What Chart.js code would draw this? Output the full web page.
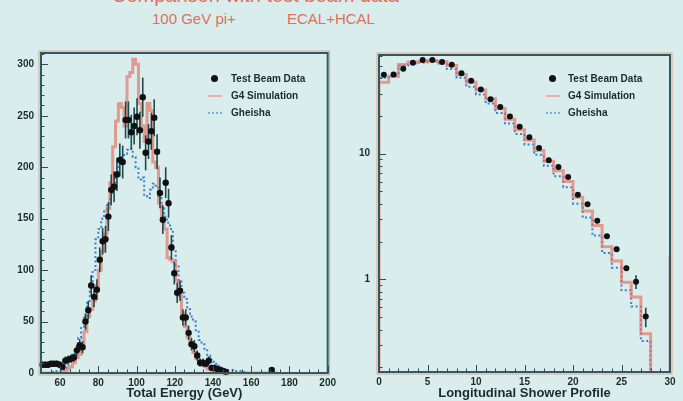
<!DOCTYPE html>
<html><head><meta charset="utf-8">
<script src="https://cdn.jsdelivr.net/npm/chart.js@4.4.1/dist/chart.umd.min.js"></script>
<style>
html,body{margin:0;padding:0;background:#d9eeec;width:683px;height:401px;overflow:hidden;font-family:'Liberation Sans',Arial,sans-serif;}
canvas{position:absolute;}
#c1{left:0;top:40px;}
#c2{left:340px;top:40px;}
.t{position:absolute;color:#e0705a;white-space:nowrap;line-height:15px;}
.lg{position:absolute;font-weight:bold;font-size:10px;color:#1e2a2c;line-height:12px;white-space:nowrap;}
.dot{position:absolute;width:7px;height:7px;border-radius:50%;background:#111;}
.ln{position:absolute;width:14px;height:0;border-top:2px solid rgba(232,160,160,0.8);}
.dl{position:absolute;width:14px;height:0;border-top:2px dotted rgba(110,160,220,0.85);}
</style></head>
<body>
<div class="t" style="left:112px;top:-15px;font-size:20px;line-height:20px;">Comparison with test beam data</div>
<div class="t" style="left:152px;top:11px;font-size:15px;">100 GeV pi+</div>
<div class="t" style="left:287px;top:11px;font-size:15px;">ECAL+HCAL</div>

<canvas id="c1" width="340" height="361"></canvas>
<canvas id="c2" width="343" height="361"></canvas>

<div class="dot" style="left:211px;top:75px;"></div>
<div class="ln" style="left:208px;top:95px;"></div>
<div class="dl" style="left:208px;top:112px;"></div>
<div class="lg" style="left:231px;top:73px;">Test Beam Data</div>
<div class="lg" style="left:231px;top:90px;">G4 Simulation</div>
<div class="lg" style="left:231px;top:107px;">Gheisha</div>

<div class="dot" style="left:549px;top:75px;"></div>
<div class="ln" style="left:546px;top:95px;"></div>
<div class="dl" style="left:546px;top:112px;"></div>
<div class="lg" style="left:568px;top:73px;">Test Beam Data</div>
<div class="lg" style="left:568px;top:90px;">G4 Simulation</div>
<div class="lg" style="left:568px;top:107px;">Gheisha</div>

<script>
// ---- Left panel: total energy (GeV), 1.5 GeV bins ----
const energyBins = [50.75,52.25,53.75,55.25,56.75,58.25,59.75,61.25,62.75,64.25,
65.75,67.25,68.75,70.25,71.75,73.25,74.75,76.25,77.75,79.25,
80.75,82.25,83.75,85.25,86.75,88.25,89.75,91.25,92.75,94.25,
95.75,97.25,98.75,100.25,101.75,103.25,104.75,106.25,107.75,109.25,
110.75,112.25,113.75,115.25,116.75,118.25,119.75,121.25,122.75,124.25,
125.75,127.25,128.75,130.25,131.75,133.25,134.75,136.25,137.75,139.25,
140.75,142.25,143.75,145.25,146.75,148.25,149.75,151.25,152.75,154.25,
155.75,157.25,158.75,160.25,161.75,163.25,164.75,166.25,167.75,169.25,
170.75,172.25];
const beamData = [8,8,8,9,9,9,8,6,12,13,
14,15,22,27,25,50,61,85,74,81,
110,128,130,152,178,181,193,207,205,246,
246,234,240,249,236,268,214,225,235,248,
215,175,149,185,165,122,97,78,80,54,
54,39,28,26,17,10,10,9,12,5,
5,4,3,2,1,null,null,null,null,null,
null,null,null,null,null,null,null,null,null,null,
3,null];
const beamErr = [3,3,3,3,3,3,3,3,4,4,
4,4,5,6,6,8,9,10,10,10,
12,13,13,14,15,15,16,16,16,18,
18,17,18,18,18,19,17,17,18,18,
17,15,14,15,14,12,11,10,10,8,
8,7,6,6,5,4,4,3,4,3,
3,2,2,2,1,0,0,0,0,0,
0,0,0,0,0,0,0,0,0,0,
2,0];
const g4Energy = [0,0,0,0,0,0,0,1,2,4,
6,10,15,18,28,40,55,62,70,85,
100,118,135,160,185,220,245,262,258,240,
288,292,305,300,262,240,225,262,255,205,
200,165,150,140,112,110,108,90,75,58,
45,35,28,20,14,10,8,6,4,3,
2,2,1,1,0,0,0,0,0,0,
0,0,0,0,0,0,0,0,0,0,
0,0];
const gheishaEnergy = [0,0,0,0,1,2,2,3,5,8,
12,18,26,34,45,55,68,85,100,130,
140,150,158,165,172,185,195,203,210,213,
217,218,210,200,188,190,172,170,178,184,
182,170,160,152,146,140,120,105,90,78,
72,62,55,50,40,32,28,22,17,13,
11,9,7,5,4,3,3,2,2,2,
1,1,0,0,0,0,0,0,0,0,
0,0];
const energyTicks = [60,80,100,120,140,160,180,200];
const countTicks = [0,50,100,150,200,250,300];

// ---- Right panel: longitudinal shower profile ----
const profileBins = [0.5,1.5,2.5,3.5,4.5,5.5,6.5,7.5,8.5,9.5,
10.5,11.5,12.5,13.5,14.5,15.5,16.5,17.5,18.5,19.5,
20.5,21.5,22.5,23.5,24.5,25.5,26.5,27.5,28.5,29.5];
const profileData = [42.2,42.5,47.2,52.6,55.5,55.5,53.5,50.7,43.5,37.9,
32.3,27,23.5,19.7,16.3,13.5,11.1,8.87,7.83,6.52,
4.72,3.95,2.93,2.2,1.74,1.23,0.96,0.507,null,null];
const profileErr = [0,0,0,0,0,0,0,0,0,0,
0,0,0,0,0,0,0,0,0,0,
0,0,0,0,0,0.06,0.12,0.09,0,0];
const g4Profile = [36.8,41,51,53.5,54,55,54,50,42.5,36.8,
32,27.3,22.8,18.7,15.5,12.8,10.6,8.7,7.3,6.0,
4.5,3.5,2.68,1.82,1.40,0.95,0.725,0.37,0.1,0.1];
const gheishaProfile = [40,42,50,52,53,54,52,47,40,34,
29.5,25,21,17.3,14.3,11.8,9.8,8.0,6.6,5.4,
4.0,3.1,2.23,1.62,1.24,0.82,0.61,0.325,0.1,0.1];
const profileEdgeValue = 1.5;
const profileTicks = [0,5,10,15,20,25,30];
const logTicks = [1,10];

const FONT = "'Liberation Sans', Arial, sans-serif";
const tickFont = {family: FONT, size: 10, weight: 'bold'};
const titleFont = {family: FONT, size: 13, weight: 'bold'};
const txt = '#1e2a2c';
const redLine = 'rgba(228,112,100,0.68)';
const blueLine = '#3b7fd6';

function framePlugin(cfg) {
  return {
    id: 'frame' + cfg.id,
    beforeDatasetDraw(chart, args) {
      if (args.index !== 0) return;
      const {ctx, scales: {x, y}} = chart;
      ctx.save();
      ctx.strokeStyle = '#1d4a4c';
      ctx.lineWidth = 1.6;
      cfg.bins.forEach((b, i) => {
        const v = cfg.vals[i], e = cfg.errs[i];
        if (v == null || !e) return;
        const px = x.getPixelForValue(b);
        ctx.beginPath();
        ctx.moveTo(px, y.getPixelForValue(v + e));
        ctx.lineTo(px, y.getPixelForValue(Math.max(v - e, cfg.floor)));
        ctx.stroke();
      });
      ctx.restore();
    },
    afterDraw(chart) {
      const {ctx, chartArea: a, scales: {x, y}} = chart;
      ctx.save();
      ctx.strokeStyle = '#2b4f55';
      ctx.lineWidth = 1;
      const seg = (x1, y1, x2, y2) => { ctx.beginPath(); ctx.moveTo(x1, y1); ctx.lineTo(x2, y2); ctx.stroke(); };
      cfg.xMinor.forEach(v => { const p = Math.round(x.getPixelForValue(v)) + 0.5; seg(p, a.bottom, p, a.bottom - 3.5); });
      cfg.xMajor.forEach(v => { const p = Math.round(x.getPixelForValue(v)) + 0.5; seg(p, a.bottom, p, a.bottom - 7); });
      cfg.yMinor.forEach(v => { const p = Math.round(y.getPixelForValue(v)) + 0.5; seg(a.left, p, a.left + 3.5, p); });
      cfg.yMajor.forEach(v => { const p = Math.round(y.getPixelForValue(v)) + 0.5; seg(a.left, p, a.left + 7, p); });
      ctx.strokeStyle = 'rgba(226,140,120,0.75)';
      ctx.lineWidth = 1;
      ctx.strokeRect(a.left - 2, a.top - 2, a.right - a.left + 4, a.bottom - a.top + 4);
      ctx.strokeStyle = '#2f5b60';
      ctx.lineWidth = 2;
      ctx.strokeRect(a.left, a.top, a.right - a.left, a.bottom - a.top);
      ctx.restore();
    }
  };
}

const range = (a, b, s) => { const r = []; for (let v = a; v <= b + 1e-9; v += s) r.push(+v.toFixed(4)); return r; };
const logMinor = [];
[0.1, 1, 10].forEach(d => { for (let k = 2; k <= 9; k++) logMinor.push(d * k); });

const commonOpts = (padRight, padTop) => ({
  responsive: false, animation: false, events: [],
  layout: {padding: {top: padTop, right: padRight, left: 0, bottom: 0}},
  plugins: {legend: {display: false}, tooltip: {enabled: false}}
});

// Left chart
new Chart(document.getElementById('c1'), {
  type: 'line',
  data: {datasets: [
    {label: 'Test Beam Data', data: energyBins.map((x, i) => ({x, y: beamData[i]})),
     showLine: false, pointRadius: 3.2, pointBackgroundColor: '#111', pointBorderWidth: 0, clip: 6},
    {label: 'G4 Simulation', data: [{x: 49.25, y: 0}, ...energyBins.map((x, i) => ({x, y: g4Energy[i]})), {x: 173.75, y: 0}],
     stepped: 'middle', borderColor: redLine, borderWidth: 3, pointRadius: 0, fill: false, clip: 0},
    {label: 'Gheisha', data: [{x: 49.25, y: 0}, ...energyBins.map((x, i) => ({x, y: gheishaEnergy[i]})), {x: 173.75, y: 0}],
     stepped: 'middle', borderColor: blueLine, borderWidth: 2, borderDash: [2, 2.5], pointRadius: 0, fill: false, clip: 0}
  ]},
  options: Object.assign(commonOpts(8, 6), {
    scales: {
      x: {type: 'linear', min: 50, max: 200,
          afterBuildTicks: s => { s.ticks = energyTicks.map(v => ({value: v})); },
          afterFit: s => { s.height = 28; },
          grid: {display: false, drawTicks: false}, border: {display: false},
          ticks: {font: tickFont, color: txt, padding: 4, maxRotation: 0, autoSkip: false},
          title: {display: true, text: 'Total Energy (GeV)', font: titleFont, color: txt, padding: {top: 0, bottom: 0}}},
      y: {type: 'linear', min: 0, max: 311,
          afterBuildTicks: s => { s.ticks = countTicks.map(v => ({value: v})); },
          afterFit: s => { s.width = 41; },
          grid: {display: false, drawTicks: false}, border: {display: false},
          ticks: {font: tickFont, color: txt, padding: 7, autoSkip: false}}
    }
  }),
  plugins: [framePlugin({id: 'L', bins: energyBins, vals: beamData, errs: beamErr, floor: 0,
    xMinor: range(50, 200, 5), xMajor: energyTicks, yMinor: range(0, 310, 10), yMajor: countTicks})]
});

// Right chart
new Chart(document.getElementById('c2'), {
  type: 'line',
  data: {datasets: [
    {label: 'Test Beam Data', data: profileBins.map((x, i) => ({x, y: profileData[i]})),
     showLine: false, pointRadius: 3, pointBackgroundColor: '#111', pointBorderWidth: 0, clip: 6},
    {label: 'G4 Simulation', data: [{x: -0.5, y: 0.1}, ...profileBins.map((x, i) => ({x, y: g4Profile[i]})), {x: 30.5, y: profileEdgeValue}],
     stepped: 'middle', borderColor: redLine, borderWidth: 3, pointRadius: 0, fill: false, clip: 0},
    {label: 'Gheisha', data: [{x: -0.5, y: 0.1}, ...profileBins.map((x, i) => ({x, y: gheishaProfile[i]})), {x: 30.5, y: profileEdgeValue}],
     stepped: 'middle', borderColor: blueLine, borderWidth: 2, borderDash: [2, 2.5], pointRadius: 0, fill: false, clip: 0}
  ]},
  options: Object.assign(commonOpts(13, 7), {
    scales: {
      x: {type: 'linear', min: 0, max: 30,
          afterBuildTicks: s => { s.ticks = profileTicks.map(v => ({value: v})); },
          afterFit: s => { s.height = 29; },
          grid: {display: false, drawTicks: false}, border: {display: false},
          ticks: {font: tickFont, color: txt, padding: 4, maxRotation: 0, autoSkip: false},
          title: {display: true, text: 'Longitudinal Shower Profile', font: titleFont, color: txt, padding: {top: 0, bottom: 0}}},
      y: {type: 'logarithmic', min: 0.184, max: 60.7,
          afterBuildTicks: s => { s.ticks = logTicks.map(v => ({value: v})); },
          afterFit: s => { s.width = 39; },
          grid: {display: false, drawTicks: false}, border: {display: false},
          ticks: {font: tickFont, color: txt, padding: 9, autoSkip: false, callback: v => String(v)}}
    }
  }),
  plugins: [framePlugin({id: 'R', bins: profileBins, vals: profileData, errs: profileErr, floor: 0.19,
    xMinor: range(0, 30, 1), xMajor: profileTicks, yMinor: logMinor.filter(v => v > 0.184 && v < 60.7), yMajor: logTicks})]
});
</script>
</body></html>
